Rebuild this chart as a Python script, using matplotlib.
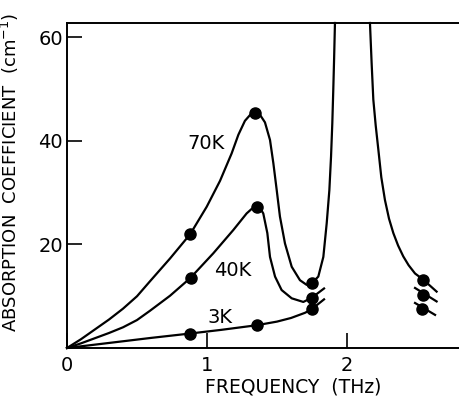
import matplotlib
matplotlib.use("Agg")
import matplotlib.pyplot as plt

# traced curves (frequency in THz, absorption in cm^-1)
x70 = [0.0, 0.1, 0.2, 0.3, 0.4, 0.5, 0.593, 0.736, 0.88, 0.998, 1.093, 1.176, 1.224,
       1.271, 1.31, 1.343, 1.38, 1.414, 1.45, 1.474, 1.498, 1.521, 1.557, 1.605, 1.664,
       1.712, 1.748, 1.795, 1.831, 1.855, 1.874, 1.886, 1.895, 1.902, 1.908, 1.914]
y70 = [0.0, 1.7, 3.6, 5.5, 7.6, 10.0, 12.9, 17.3, 22.0, 27.3, 32.3, 37.6, 41.2,
       43.9, 45.1, 45.4, 45.0, 43.6, 40.2, 35.7, 30.5, 25.4, 20.2, 15.7, 13.1,
       12.2, 12.5, 13.8, 17.6, 24.1, 30.5, 37.0, 43.4, 49.9, 56.0, 62.8]

x70r = [2.164, 2.176, 2.188, 2.205, 2.224, 2.245, 2.271, 2.30, 2.331, 2.365, 2.402,
        2.44, 2.486, 2.545, 2.64]
y70r = [62.8, 55.0, 48.0, 43.0, 38.3, 33.0, 28.6, 25.0, 22.2, 19.8, 17.7,
        16.0, 14.4, 13.2, 10.9]

x40 = [0.0, 0.1, 0.2, 0.3, 0.4, 0.5, 0.593, 0.736, 0.88, 1.045, 1.188, 1.283, 1.32,
       1.355, 1.38, 1.402, 1.431, 1.45, 1.486, 1.533, 1.605, 1.688, 1.748, 1.836]
y40 = [0.0, 0.9, 1.9, 2.9, 4.0, 5.4, 7.2, 10.1, 13.5, 18.3, 22.8, 26.0, 26.9,
       27.3, 27.0, 26.0, 22.2, 17.6, 13.8, 11.2, 9.6, 8.9, 9.7, 11.5]

x3 = [0.0, 0.2, 0.4, 0.6, 0.88, 1.1, 1.355, 1.5, 1.6, 1.7, 1.748, 1.836]
y3 = [0.0, 0.65, 1.3, 1.95, 2.8, 3.5, 4.4, 5.1, 5.8, 6.8, 7.5, 9.4]

# measured points
px70 = [0.88, 1.343, 1.748, 2.545]
py70 = [22.0, 45.4, 12.5, 13.2]
px40 = [0.884, 1.355, 1.748, 2.545]
py40 = [13.5, 27.3, 9.7, 10.3]
px3 = [0.88, 1.355, 1.748, 2.535]
py3 = [2.8, 4.4, 7.5, 7.6]

# short break strokes on the right-hand points
brk_x = [[2.486, 2.64], [2.486, 2.629]]
brk_y = [[11.6, 9.0], [8.7, 6.4]]

labels = ['70K', '40K', '3K']
label_x = [0.99, 1.18, 1.09]
label_y = [39.6, 14.9, 5.8]

fig = plt.figure(figsize=(4.59, 4.05), dpi=100)
ax = fig.add_axes([67/459, 1-348/405, 392/459, 325/405])

lw = 1.6
for xs, ys in [(x70, y70), (x70r, y70r), (x40, y40), (x3, y3)]:
    ax.plot(xs, ys, color='black', lw=lw, solid_joinstyle='round', clip_on=False)
for bx, by in zip(brk_x, brk_y):
    ax.plot(bx, by, color='black', lw=lw)
for xs, ys in [(px70, py70), (px40, py40), (px3, py3)]:
    ax.plot(xs, ys, 'o', color='black', ms=8, ls='none')

for t, lx, ly in zip(labels, label_x, label_y):
    ax.text(lx, ly, t, fontsize=14, ha='center', va='center')

ax.set_xlim(0, 2.8)
ax.set_ylim(0, 62.8)
ax.set_xticks([0, 1, 2])
ax.set_xticklabels(['0', '1', '2'])
ax.set_yticks([20, 40, 60])
ax.tick_params(direction='in', length=11, width=1.2, labelsize=14)
ax.tick_params(axis='y', pad=3)
ax.tick_params(axis='x', pad=6)
ax.spines['right'].set_visible(False)
for s in ['left', 'bottom', 'top']:
    ax.spines[s].set_linewidth(1.4)

ax.set_xlabel('FREQUENCY  (THz)', fontsize=13.5)
ax.set_ylabel('ABSORPTION  COEFFICIENT  (cm$^{-1}$)', fontsize=13)
ax.xaxis.set_label_coords(0.577, -0.092)
ax.yaxis.set_label_coords(-0.118, 0.54)

fig.savefig('out.png', dpi=100)
